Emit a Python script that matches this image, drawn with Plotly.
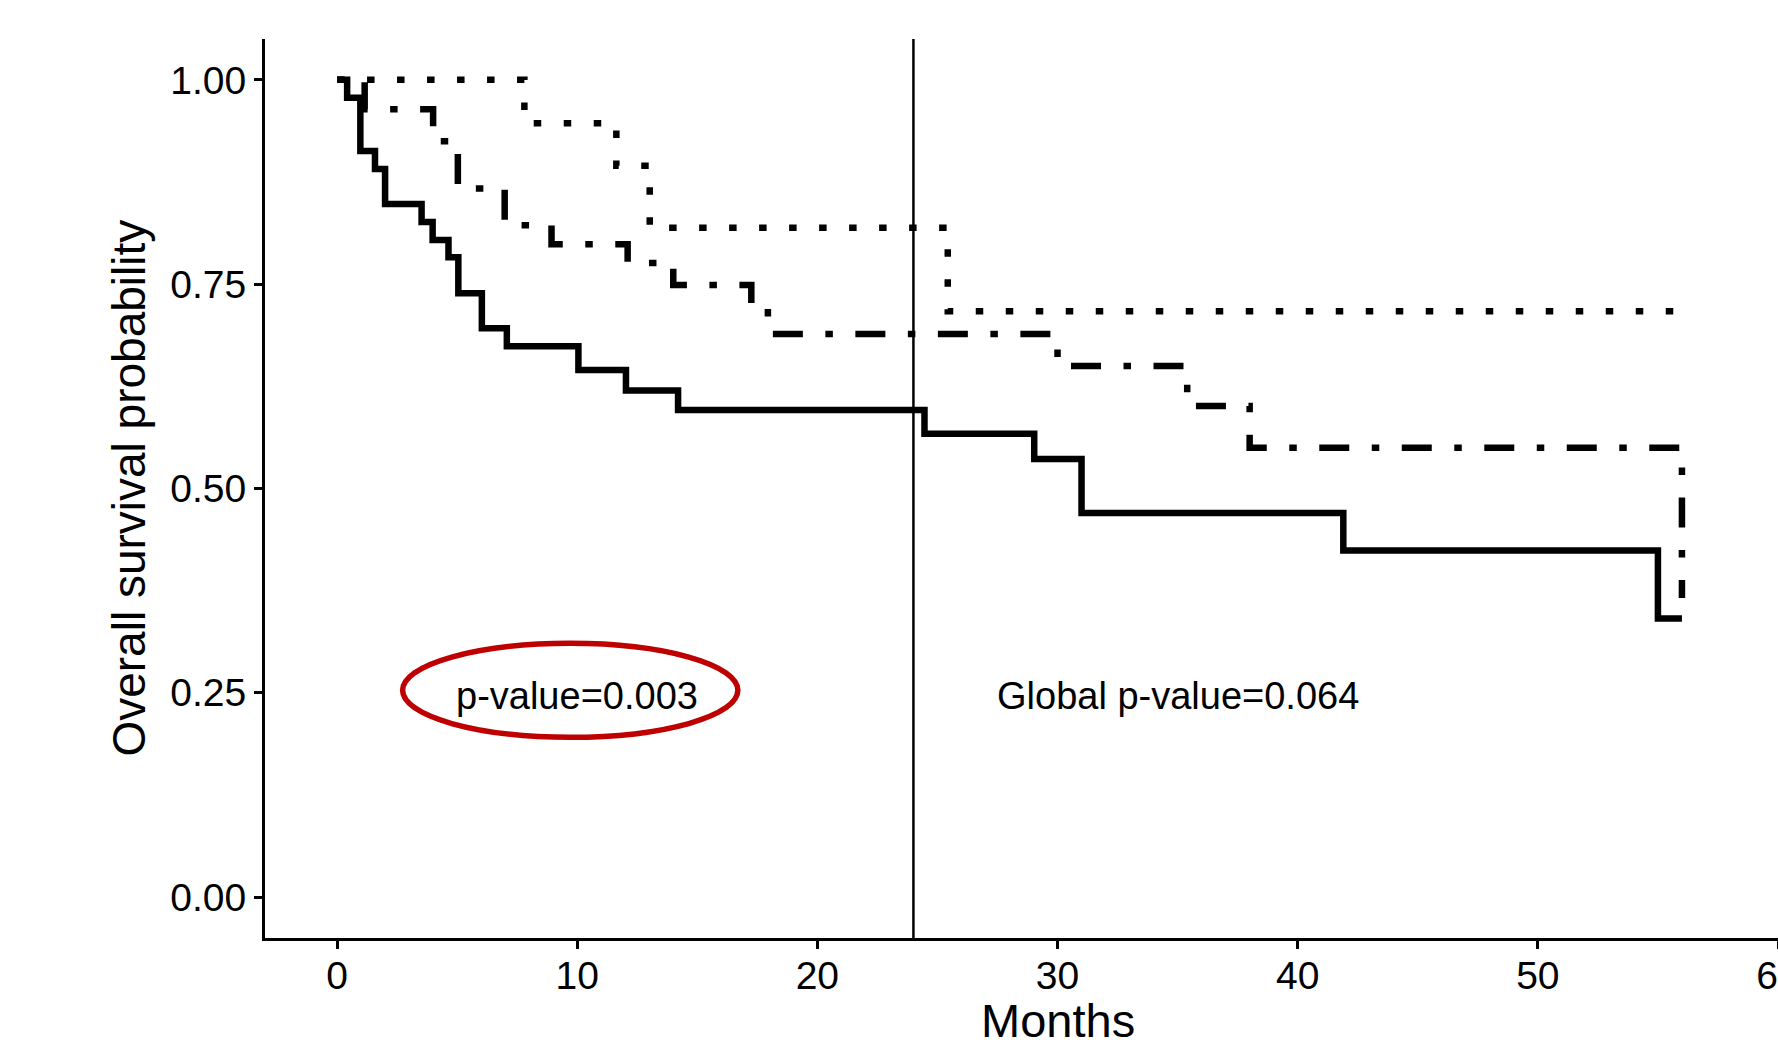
import plotly.graph_objects as go

# Kaplan-Meier step estimates (months, survival probability)
low_time = [0, 0.42, 0.97, 1.58, 2.0, 3.52, 3.98, 4.64, 5.05, 6.03, 7.07,
            10.05, 12.03, 14.2, 24.46, 29.03, 31.0, 41.9, 55.0, 56.0]
low_surv = [1.0, 0.978, 0.913, 0.891, 0.848, 0.826, 0.804, 0.783, 0.739, 0.696,
            0.674, 0.645, 0.620, 0.596, 0.567, 0.536, 0.470, 0.424, 0.341, 0.341]

mid_time = [0, 1.15, 4.0, 5.03, 6.98, 8.93, 12.1, 14.0, 17.25, 17.94,
            30.0, 35.4, 38.0, 56.0, 56.0]
mid_surv = [1.0, 0.964, 0.925, 0.867, 0.822, 0.799, 0.776, 0.749, 0.720, 0.689,
            0.650, 0.601, 0.550, 0.366, 0.366]

high_time = [0, 7.8, 11.63, 13.02, 25.43, 56.0]
high_surv = [1.0, 0.947, 0.895, 0.819, 0.717, 0.717]

y_ticks = [0, 0.25, 0.5, 0.75, 1.0]
x_ticks = [0, 10, 20, 30, 40, 50, 60]

landmark_month = 24
p_label = "p-value=0.003"
global_p_label = "Global p-value=0.064"

FONT = "Liberation Sans, Arial, Helvetica, sans-serif"
LW = 6.5

fig = go.Figure()

fig.add_trace(go.Scatter(
    x=high_time, y=high_surv, mode="lines", line_shape="hv",
    line=dict(color="black", width=LW, dash="7.5px,22.5px"),
    showlegend=False, hoverinfo="skip"))

fig.add_trace(go.Scatter(
    x=mid_time, y=mid_surv, mode="lines", line_shape="hv",
    line=dict(color="black", width=LW, dash="7.5px,22.5px,30px,22.5px"),
    showlegend=False, hoverinfo="skip"))

fig.add_trace(go.Scatter(
    x=low_time, y=low_surv, mode="lines", line_shape="hv",
    line=dict(color="black", width=LW),
    showlegend=False, hoverinfo="skip"))

# landmark at 24 months
fig.add_shape(type="line", xref="x", yref="paper",
              x0=landmark_month, x1=landmark_month, y0=0, y1=1,
              line=dict(color="black", width=2.5))

# highlight around the early-period p-value
fig.add_shape(type="circle", xref="x", yref="y",
              x0=2.73, x1=16.69, y0=0.1956, y1=0.3105,
              line=dict(color="#BF0000", width=5.5))

fig.add_annotation(x=10, y=0.246, xref="x", yref="y", text=p_label,
                   showarrow=False, xanchor="center", yanchor="middle",
                   font=dict(family=FONT, size=38, color="black"))
fig.add_annotation(x=35, y=0.246, xref="x", yref="y", text=global_p_label,
                   showarrow=False, xanchor="center", yanchor="middle",
                   font=dict(family=FONT, size=38, color="black"))

fig.add_annotation(x=30, y=-0.092, xref="x", yref="paper", text="Months",
                   showarrow=False, xanchor="center", yanchor="middle",
                   font=dict(family=FONT, size=47, color="black"))
fig.add_annotation(x=-0.0905, y=0.5, xref="paper", yref="paper",
                   text="Overall survival probability", textangle=-90,
                   showarrow=False, xanchor="center", yanchor="middle",
                   font=dict(family=FONT, size=46, color="black"))

fig.update_xaxes(range=[-3, 60], tickvals=x_ticks, ticktext=[str(v) for v in x_ticks],
                 showline=True, linecolor="black", linewidth=3,
                 ticks="outside", ticklen=8, tickwidth=3, tickcolor="black",
                 showgrid=False, zeroline=False, ticklabeloverflow="allow",
                 automargin=False, ticklabelstandoff=-7,
                 tickfont=dict(family=FONT, size=39, color="black"))
fig.update_yaxes(range=[-0.05, 1.05], tickvals=y_ticks,
                 ticktext=[f"{v:.2f}" for v in y_ticks],
                 showline=True, linecolor="black", linewidth=3,
                 ticks="outside", ticklen=8, tickwidth=3, tickcolor="black",
                 showgrid=False, zeroline=False, automargin=False,
                 tickfont=dict(family=FONT, size=39, color="black"))

fig.update_layout(width=1778, height=1047,
                  margin=dict(l=265, r=0, t=39, b=109),
                  plot_bgcolor="white", paper_bgcolor="white",
                  showlegend=False)

fig.write_html("out.html")
